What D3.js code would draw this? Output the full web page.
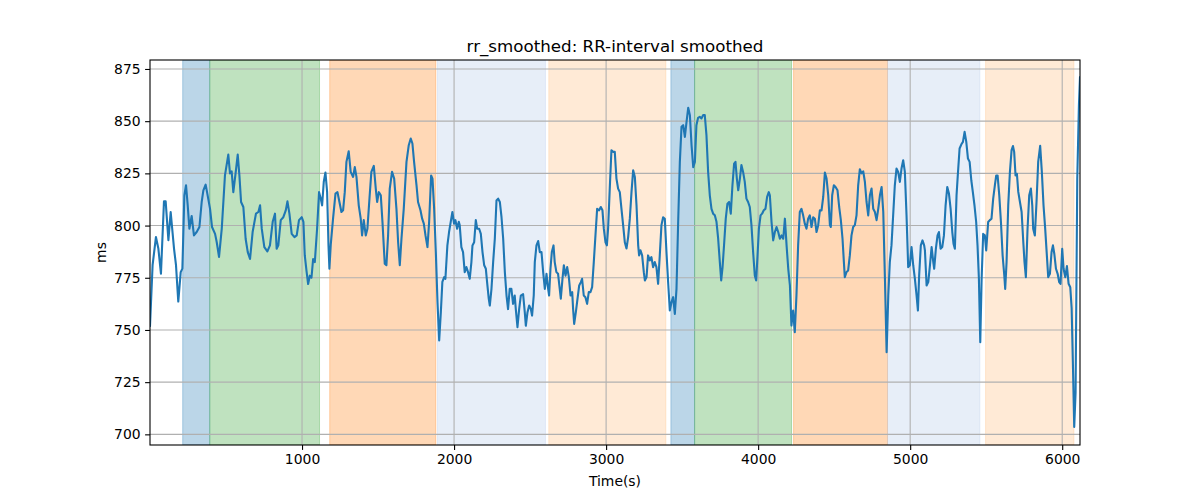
<!DOCTYPE html>
<html><head><meta charset="utf-8">
<script src="https://cdn.jsdelivr.net/npm/d3@7/dist/d3.min.js"></script>
<style>body{margin:0;background:#fff}svg{display:block}text{font-family:"DejaVu Sans",sans-serif}</style>
</head><body>
<svg id="c" width="1200" height="500"></svg>
<script>
const timeS = [0,17,39,55,72,92,103,121,136,158,171,186,202,213,226,237,248,259,274,289,307,325,340,351,366,377,395,408,428,439,454,472,493,515,526,537,548,564,577,588,599,614,629,643,658,675,697,713,724,735,752,772,789,807,822,833,844,860,877,893,904,917,932,950,965,980,998,1009,
1018,1029,1040,1051,1062,1073,1084,1099,1112,1123,1132,1143,1154,1165,1174,1180,1189,1204,1220,1233,1246,1259,1270,1281,1292,1307,1320,1336,1347,1358,1373,1386,1395,1406,1419,1430,1445,1456,1472,1485,1494,1505,1518,1529,1544,1555,1566,1577,1592,1606,1621,1632,1643,1654,1669,1687,1702,1715,1726,1737,1753,1763,1779,1790,1801,1812,1825,1836,1849,1858,1869,1880,1891,1902,1913,1923,1935,1943,1956,1967,1978,1989,2000,2009,2020,2031,
2037,2048,2059,2070,2081,2092,2103,2114,2121,2132,2143,2152,2165,2176,2187,2198,2209,2217,2228,2235,2246,2257,2268,2279,2290,2301,2312,2323,2334,2345,2355,2366,2377,2388,2399,2406,2417,2428,2439,2454,2465,2472,2483,2494,2505,2513,2524,2531,2542,2553,2564,2575,2586,2597,2608,2616,2625,2634,2643,2654,2662,2673,2684,2695,2702,2713,2722,2733,2744,2755,2766,2777,2783,2790,2801,2812,2823,2834,2842,2853,2864,2875,2886,2897,2908,2919,2930,2941,2954,2965,2976,2985,2996,3005,3013,3024,3035,3046,
3057,3068,3079,3090,3101,3112,3123,3134,3145,3156,3167,3178,3189,3200,3211,3217,3226,3237,3248,3255,3266,3276,3287,3298,3309,3320,3331,3342,3353,3364,3375,3386,3397,3408,3419,3430,3441,3452,3463,3474,3485,3496,3507,3518,3529,3540,3551,3562,3573,3584,3594,3605,3616,3627,3638,3649,3660,3671,3682,3693,3704,3715,3726,3737,3748,3757,3766,3777,3787,3798,3809,3820,3831,3842,3851,3860,3869,3880,3890,3901,3912,3923,3934,3945,3956,3967,3978,3987,3996,4005,4016,4026,4037,4048,4059,4070,
4077,4088,4099,4110,4121,4132,4143,4154,4165,4176,4187,4198,4209,4219,4230,4241,4252,4263,4274,4285,4296,4307,4318,4329,4340,4351,4362,4373,4384,4395,4406,4417,4428,4439,4450,4461,4472,4478,4487,4498,4509,4522,4533,4544,4555,4564,4570,4581,4592,4603,4614,4625,4636,4647,4658,4669,4680,4691,4702,4713,4724,4735,4746,4757,4768,4779,4790,4801,4812,4823,4834,4845,4856,4866,4877,4888,4899,4910,4921,4932,4943,4954,4965,4976,4987,4998,5009,5020,5031,5042,5051,5059,5070,5081,5092,
5097,5108,5119,5130,5141,5152,5158,5169,5180,5189,5200,5211,5222,5233,5244,5255,5266,5277,5285,5294,5305,5314,5325,5336,5347,5358,5369,5380,5391,5402,5412,5423,5434,5443,5452,5461,5470,5480,5491,5500,5513,5524,5535,5546,5557,5566,5575,5586,5597,5608,5619,5625,5634,5645,5656,5667,5676,5684,5693,5702,5711,5722,5733,5744,5752,5761,5772,5783,5794,5803,5809,5820,5831,5842,5855,5866,5877,5888,5899,5908,5919,5930,5939,5948,5959,5970,5980,5989,6000,6009,6020,6031,6042,6053,6062,6070,6079,6088,6099,6110,6117];
const rrMs = [752,781,794.5,789,777,811.6,811.6,793,806.5,789,781,763.6,777.7,779.4,814.5,819.3,809.7,798.5,804.6,795.3,796.9,799.3,811.3,816.9,819.6,815.3,808,799.3,796,792,785,798.5,824,834,825,826,816,825.7,834,824,811.3,808.9,793.7,787.3,784,796.9,805.7,806.5,809.7,798.5,789.7,787.6,790.5,801.8,805.7,788.9,790.5,802.6,804,807.3,811.6,805.7,796,794.5,795.3,802.6,804,801.8,
785.7,778.5,772,776,775,784,782.5,798.5,816,813,809.7,821,825.4,816,790.5,779.3,791,803.3,815.3,816,811.3,806.5,807.3,816,830.5,835.6,825.7,823.3,828,823.3,809.7,803.3,795.3,802.6,795.3,798.5,814.5,825.7,828.6,817.7,811.3,816,814.5,801.8,781.7,781,795.3,817.7,825.7,822.5,808,792,781,793.7,808,830.5,838.5,841.7,839.3,830.5,819.3,811.3,807.3,803.3,800.9,795.3,789.7,801.8,824,822.5,808,787.3,763.3,745,758.5,773,775.3,774.5,790.5,796.9,801.8,806.5,800.9,802.6,798.5,801.8,
800.2,789.7,787.3,777.7,780.1,777.7,774.5,782.5,790.5,792,802.6,798.5,798.5,796,787.3,781,779.3,773,765,761.7,769.7,782.5,793.7,812,812.9,811.3,804,793.7,777.7,766.5,760,769.7,769.7,762.5,766.5,760,751.3,760,766.5,767.2,758.5,752,758.5,761.7,760,756.9,766.5,782.5,790.5,792.6,787.3,787.3,777.7,769.7,776.9,771.3,766.5,779.3,787.3,790.5,782.5,777.7,776.9,769.7,765,774.5,781,776,780.1,775.3,766.5,768.1,760,752.9,758.5,765,771.3,772.9,774.5,766.5,765.7,762.5,768.1,768.1,770.5,782.5,795.3,808,807.3,808.9,807.3,798.5,792,790.5,798.5,817.7,836.1,835.3,
835.3,822.5,817.7,816,808,800.2,792,789,794.5,803.3,816,826.5,823.3,809.7,790.5,785.7,788.2,785.7,777.7,773.7,775.3,785.7,783.3,784.9,780.1,782.5,780.1,772.1,785.7,800.2,804,803.3,787.3,772.9,759.3,763.3,765.7,757.7,769.7,801.8,830.5,847.3,848.1,842.5,849.7,856.4,852.9,838.5,828,830.5,848.1,851.6,852.1,851.3,852.9,852.9,843.3,825.7,814.5,808,805.7,804.9,801.8,793.7,782.5,773.7,780.1,792,803.3,810.5,811.3,805.7,819.3,829.7,830.5,822.5,816.9,822.5,829,825.7,820.9,812.9,811.3,808.9,800.2,787.3,776.1,773.7,785.7,798.5,804.9,805.7,807.3,808,813.7,816,
814.5,801.8,792.9,796.9,799.3,796.9,793.7,795.3,793.7,803.3,790.5,779.3,771.3,752.1,759.3,748.9,766.5,790.5,806.5,808,804.9,800.9,798.5,803.3,804.9,799.3,804,803.3,796.9,800.2,807.3,807.3,813.7,825.4,822.5,814.5,800.2,799.3,814.5,819.3,818.5,816.9,808.9,802.6,793.7,782.5,775.3,777.7,778.5,785.7,795.3,799.3,800.2,804.9,819.3,827,825,826,821,811.3,804.9,814.5,817.7,808,806.5,802.6,808,814.5,818.5,806.5,774.5,739.3,766.5,782.5,790.5,804.9,819.3,827.3,825.7,820.9,827.3,831.3,825.7,804.9,780.1,781,789.7,781,774.5,766.5,759.3,776.1,790.5,792.9,790.5,
788.1,771.3,772.9,780.9,789.7,782.5,779.3,788.9,795.3,796.9,788.9,789.7,795.3,809.7,818.5,815.3,808,796.9,791.3,788.9,814.5,825,836.9,838.8,840.1,844.9,840.1,832.1,830.5,821.7,816.1,809.7,801.7,790.5,774.5,744.1,774.5,796,795.3,788.1,801.7,802.6,803.3,812.9,819.3,824,824,814.5,801.7,785.7,776.1,769.7,782.5,809.7,825.7,836.1,838.1,835.3,824,824.8,816.1,811.3,806.5,792.1,782.5,775.3,798.5,814.5,817.7,809.7,798.5,795.3,811.3,830.5,838.2,825.7,809.7,798.5,785.7,775.3,776.9,787.3,790.5,786.5,779.3,776.9,772.9,772.1,788.9,779.3,775.3,780.6,772.1,770.5,760.5,734.9,703.5,720.1,822.5,857.7,871];

const bandStart = [215,393,1182,1891,2623,3426,3582,4233,4851,5496];
const bandEnd   = [393,1115,1880,2601,3393,3582,4220,4851,5458,6077];
const bandColor = ["#1f77b4","#2ca02c","#ff7f0e","#aec7e8","#ffbb78","#1f77b4","#2ca02c","#ff7f0e","#aec7e8","#ffbb78"];
const xTicks = [1000,2000,3000,4000,5000,6000];
const yTicks = [700,725,750,775,800,825,850,875];

const svg = d3.select("#c");
const L=150,R=1080,T=60,B=445;
const x = d3.scaleLinear().domain([0,6117]).range([L,R]);
const y = d3.scaleLinear().domain([694.9,879.3]).range([B,T]);

svg.append("defs").append("clipPath").attr("id","clip").append("rect")
  .attr("x",L).attr("y",T).attr("width",R-L).attr("height",B-T);

const plot = svg.append("g").attr("clip-path","url(#clip)");
plot.selectAll("rect.band").data(bandStart).join("rect").attr("class","band")
  .attr("x",(d)=>x(d)).attr("width",(d,i)=>x(bandEnd[i])-x(d))
  .attr("y",T).attr("height",B-T)
  .attr("fill",(d,i)=>bandColor[i]).attr("fill-opacity",0.3)
  .attr("stroke",(d,i)=>bandColor[i]).attr("stroke-opacity",0.3).attr("stroke-width",1);

// grid
plot.selectAll("line.gx").data(xTicks).join("line")
  .attr("x1",d=>x(d)).attr("x2",d=>x(d)).attr("y1",T).attr("y2",B)
  .attr("stroke","#b0b0b0").attr("stroke-width",1.1);
plot.selectAll("line.gy").data(yTicks).join("line")
  .attr("y1",d=>y(d)).attr("y2",d=>y(d)).attr("x1",L).attr("x2",R)
  .attr("stroke","#b0b0b0").attr("stroke-width",1.1);

const line = d3.line().x((d,i)=>x(timeS[i])).y(d=>y(d));
plot.append("path").datum(rrMs).attr("d",line).attr("fill","none")
  .attr("stroke","#1f77b4").attr("stroke-width",2.1).attr("stroke-linejoin","round").attr("stroke-linecap","square");

// axes
const xa = svg.append("g").attr("transform",`translate(0,${B})`)
  .call(d3.axisBottom(x).tickValues(xTicks).tickSize(4.9).tickPadding(4.5).tickFormat(d3.format("d")));
const ya = svg.append("g").attr("transform",`translate(${L},0)`)
  .call(d3.axisLeft(y).tickValues(yTicks).tickSize(4.9).tickPadding(4.5).tickFormat(d3.format("d")));
[xa,ya].forEach(a=>{
  a.select(".domain").remove();
  a.selectAll(".tick line").attr("stroke","#000").attr("stroke-width",1.1);
  a.selectAll(".tick text").attr("font-size",13.9).attr("fill","#000").attr("font-family","DejaVu Sans");
});
svg.append("rect").attr("x",L).attr("y",T).attr("width",R-L).attr("height",B-T)
  .attr("fill","none").attr("stroke","#000").attr("stroke-width",1.1);

svg.append("text").attr("x",(L+R)/2).attr("y",52).attr("text-anchor","middle")
  .attr("font-size",16.7).text("rr_smoothed: RR-interval smoothed");
svg.append("text").attr("x",(L+R)/2).attr("y",486).attr("text-anchor","middle")
  .attr("font-size",13.9).text("Time(s)");
svg.append("text").attr("transform",`translate(106,${(T+B)/2}) rotate(-90)`).attr("text-anchor","middle")
  .attr("font-size",13.9).text("ms");
</script>
</body></html>
